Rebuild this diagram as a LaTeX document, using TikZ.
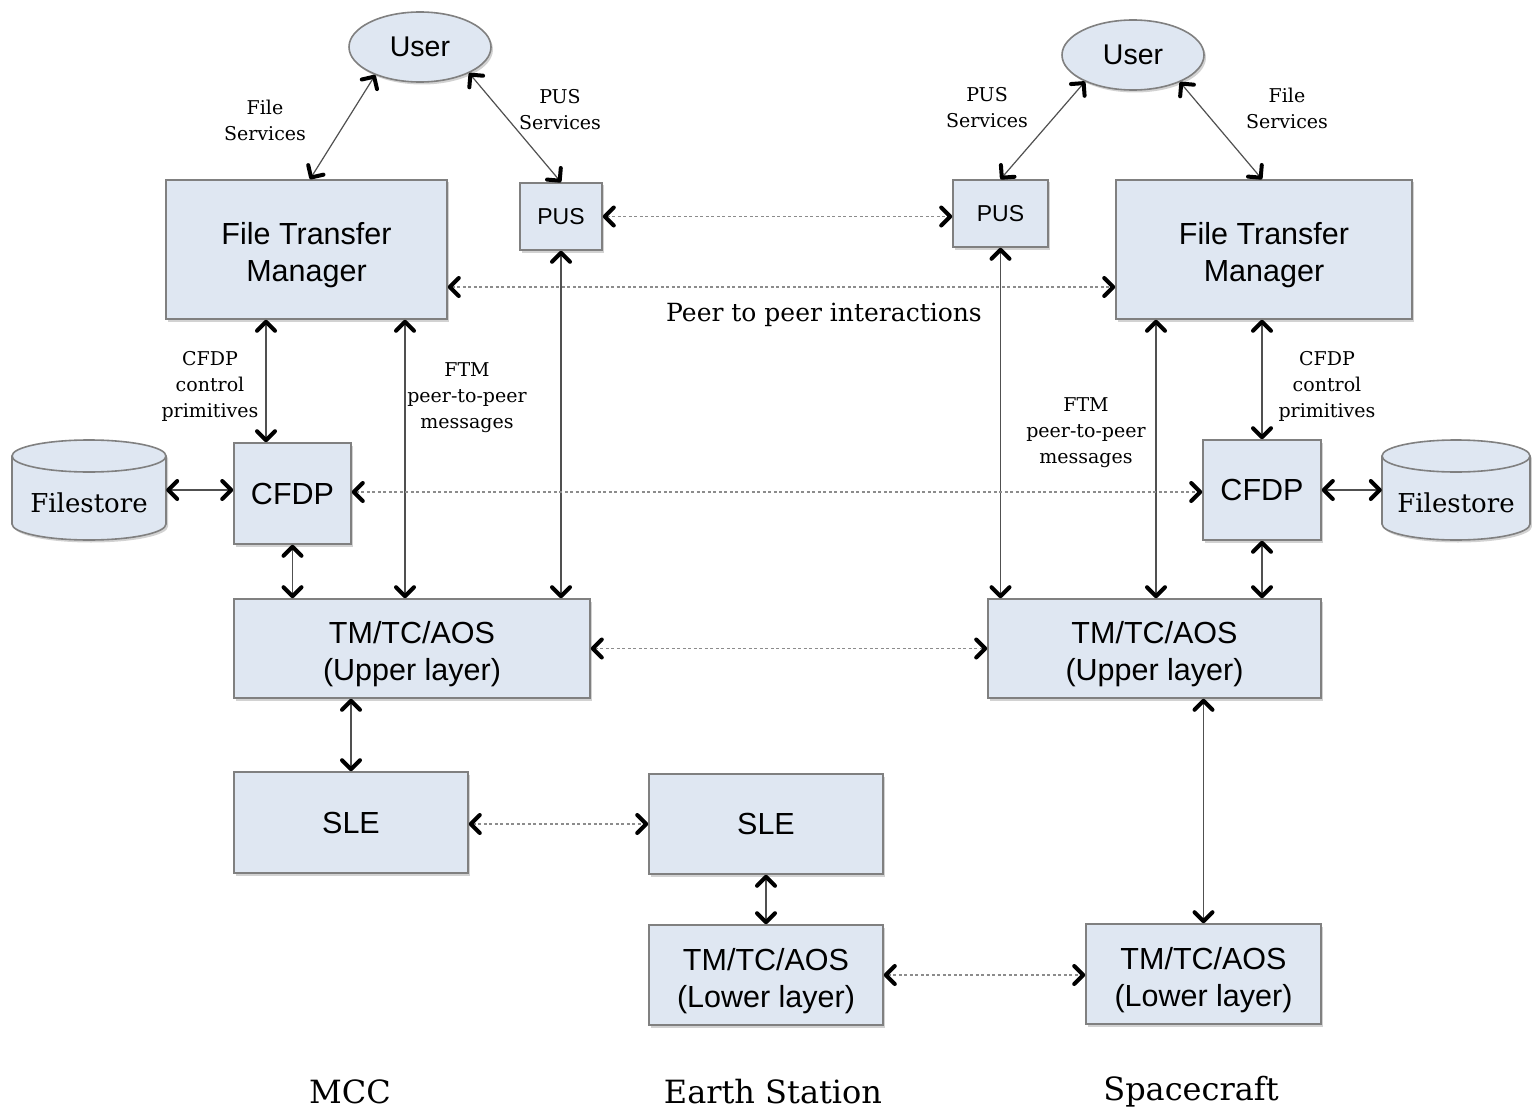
\documentclass[tikz,border=0pt]{standalone}
\usepackage{fontspec}
\setmainfont{DejaVu Serif}
\newfontfamily\boxfont{Liberation Sans}
\usetikzlibrary{arrows.meta,shadows,shapes.geometric}

\definecolor{boxfill}{HTML}{DFE7F2}
\definecolor{boxline}{HTML}{808080}
\definecolor{linkgray}{HTML}{505050}
\definecolor{dotgray}{HTML}{8C8C8C}

% raises the first line of two-line box texts so the block sits a little low
\newcommand{\toprule}{\rule{0pt}{34pt}}

\tikzset{
  x=1pt, y=-1pt,
  barb/.tip={Straight Barb[length=9pt,width=18pt,line width=4pt,round,black]},
  shade/.style={drop shadow={shadow xshift=2pt,shadow yshift=-2.5pt,opacity=0.35}},
  blk/.style={draw=boxline, line width=1.6pt, fill=boxfill, shade, inner sep=0pt,
    align=center, font=\boxfont\fontsize{30.5}{37}\selectfont},
  usr/.style={ellipse, draw=boxline, line width=1.6pt, fill=boxfill, shade, inner sep=0pt,
    minimum width=142, minimum height=70, font=\boxfont\fontsize{28.5}{34}\selectfont},
  cyl/.style={draw=boxline, line width=1.6pt, fill=boxfill, shade},
  cylline/.style={draw=boxline, line width=1.6pt},
  cyltext/.style={inner sep=0pt, font=\fontsize{26}{30}\selectfont},
  anchorbox/.style={inner sep=0pt},
  link/.style={draw=linkgray, line width=1.2pt, arrows={barb-barb}},
  peer/.style={draw=dotgray, line width=1.6pt, dash pattern=on 3pt off 2.5pt, arrows={barb-barb}},
  lbl/.style={align=center, inner sep=0pt, font=\fontsize{19}{26}\selectfont},
  site/.style={inner sep=0pt, font=\fontsize{32}{38}\selectfont},
}

\begin{document}
\begin{tikzpicture}
\fill[white] (0,0) rectangle (1532,1113);
\useasboundingbox (0,0) rectangle (1532,1113);

% ---------- users ----------
\node[usr] (userL) at (420,47) {User};
\node[usr] (userR) at (1133,55) {User};

% ---------- MCC stack ----------
\node[blk, minimum width=281, minimum height=139] (ftmL) at (306.5,249.5) {\toprule File Transfer\\Manager};
\node[blk, minimum width=82, minimum height=67, font=\boxfont\fontsize{23}{28}\selectfont] (pusL) at (561,216.5) {PUS};
\node[blk, minimum width=117, minimum height=101] (cfdpL) at (292.5,493.5) {CFDP};
\node[blk, minimum width=356, minimum height=99] (tmuL) at (412,648.5) {\toprule TM/TC/AOS\\(Upper layer)};
\node[blk, minimum width=234, minimum height=101] (sleL) at (351,822.5) {SLE};

% ---------- Earth station ----------
\node[blk, minimum width=234, minimum height=100] (sleE) at (766,824) {SLE};
\node[blk, minimum width=234, minimum height=100] (tmlE) at (766,975) {\toprule TM/TC/AOS\\(Lower layer)};

% ---------- Spacecraft stack ----------
\node[blk, minimum width=296, minimum height=139] (ftmR) at (1264,249.5) {\toprule File Transfer\\Manager};
\node[blk, minimum width=95, minimum height=67, font=\boxfont\fontsize{23}{28}\selectfont] (pusR) at (1000.5,213.5) {PUS};
\node[blk, minimum width=118, minimum height=100] (cfdpR) at (1262,490) {CFDP};
\node[blk, minimum width=333, minimum height=99] (tmuR) at (1154.5,648.5) {\toprule TM/TC/AOS\\(Upper layer)};
\node[blk, minimum width=235, minimum height=100] (tmlS) at (1203.5,974) {\toprule TM/TC/AOS\\(Lower layer)};

% ---------- filestores (cylinders) ----------
\filldraw[cyl] (12,456) -- (12,524)
  arc[start angle=180,end angle=360,x radius=77pt,y radius=16pt] -- (166,456)
  arc[start angle=0,end angle=180,x radius=77pt,y radius=16pt] -- cycle;
\draw[cylline] (12,456) arc[start angle=180,end angle=360,x radius=77pt,y radius=16pt];
\node[anchorbox, minimum width=154, minimum height=100] (fsL) at (89,490) {};
\node[cyltext] (fsLtext) at (89,503) {Filestore};

\filldraw[cyl] (1382,456) -- (1382,524)
  arc[start angle=180,end angle=360,x radius=74pt,y radius=16pt] -- (1530,456)
  arc[start angle=0,end angle=180,x radius=74pt,y radius=16pt] -- cycle;
\draw[cylline] (1382,456) arc[start angle=180,end angle=360,x radius=74pt,y radius=16pt];
\node[anchorbox, minimum width=148, minimum height=100] (fsR) at (1456,490) {};
\node[cyltext] (fsRtext) at (1456,503) {Filestore};

% ---------- solid connectors ----------
\draw[link] (userL.212) -- (ftmL.north -| 310,0);
\draw[link] (userL.332) -- (pusL.north);
\draw[link] (userR.209) -- (pusR.north);
\draw[link] (userR.330) -- (ftmR.north -| 1262,0);

\draw[link] (ftmL.south -| 266,0) -- (cfdpL.north -| 266,0);
\draw[link] (ftmL.south -| 405,0) -- (tmuL.north -| 405,0);
\draw[link] (pusL.south) -- (tmuL.north -| pusL.south);
\draw[link] (cfdpL.south) -- (tmuL.north -| cfdpL.south);
\draw[link] (tmuL.south -| sleL.north) -- (sleL.north);
\draw[link] (fsL.east) -- (cfdpL.west |- fsL.east);

\draw[link] (sleE.south) -- (tmlE.north);

\draw[link] (pusR.south) -- (tmuR.north -| pusR.south);
\draw[link] (ftmR.south -| 1156,0) -- (tmuR.north -| 1156,0);
\draw[link] (ftmR.south -| cfdpR.north) -- (cfdpR.north);
\draw[link] (cfdpR.south) -- (tmuR.north -| cfdpR.south);
\draw[link] (cfdpR.east) -- (fsR.west);
\draw[link] (tmuR.south -| tmlS.north) -- (tmlS.north);

% ---------- peer-to-peer (dotted) connectors ----------
\draw[peer] (pusL.east) -- (pusR.west |- pusL.east);
\draw[peer] (ftmL.east |- 0,287) -- (ftmR.west |- 0,287);
\draw[peer] (cfdpL.east |- 0,492) -- (cfdpR.west |- 0,492);
\draw[peer] (tmuL.east) -- (tmuR.west);
\draw[peer] (sleL.east |- sleE.west) -- (sleE.west);
\draw[peer] (tmlE.east) -- (tmlS.west |- tmlE.east);

% ---------- labels ----------
\node[lbl] (lfsL) at (265,120) {File\\Services};
\node[lbl] (lpusL) at (560,110) {PUS\\Services};
\node[lbl] (lpusR) at (987,108) {PUS\\Services};
\node[lbl] (lfsR) at (1287,108) {File\\Services};
\node[lbl] (lcfdpL) at (210,386) {CFDP\\control\\primitives};
\node[lbl] (lcfdpR) at (1327,386) {CFDP\\control\\primitives};
\node[lbl] (lftmL) at (467,398) {FTM\\peer-to-peer\\messages};
\node[lbl] (lftmR) at (1086,433) {FTM\\peer-to-peer\\messages};
\node[inner sep=0pt, font=\fontsize{25}{30}\selectfont] (lpeer) at (824,315) {Peer to peer interactions};

\node[site] (mcc) at (350,1092) {MCC};
\node[site] (es) at (773,1092) {Earth Station};
\node[site] (sc) at (1191,1092) {Spacecraft};
\end{tikzpicture}
\end{document}
